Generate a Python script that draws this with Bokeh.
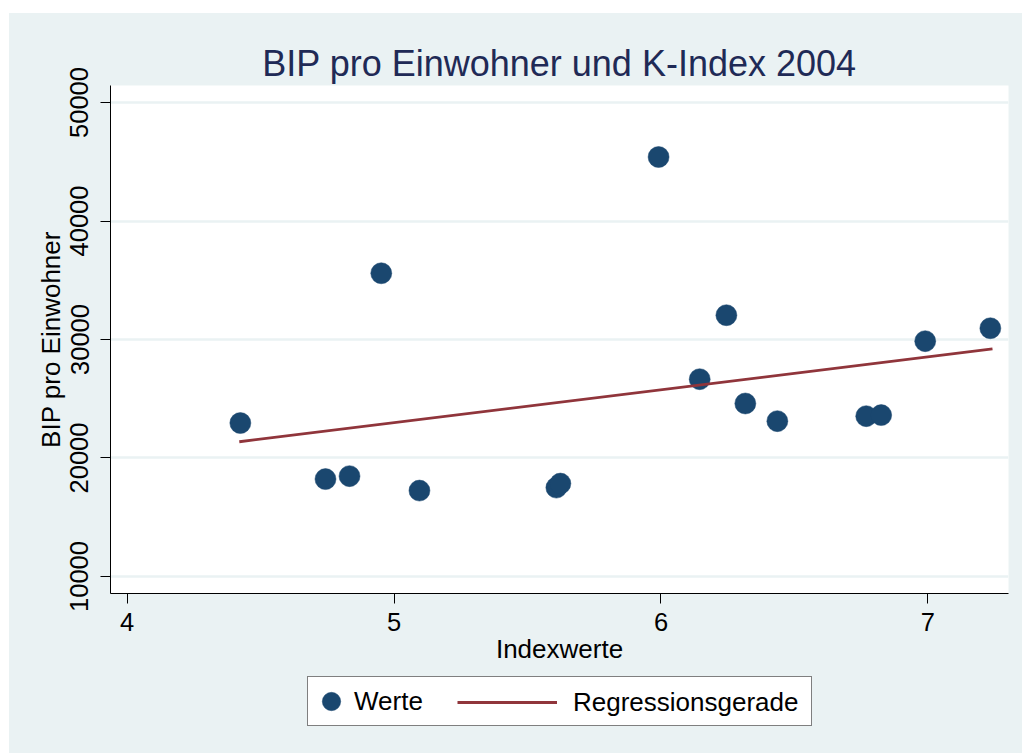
from bokeh.plotting import figure
from bokeh.models import Range1d, FixedTicker, Legend, LegendItem, Spacer
from bokeh.layouts import column, row
from bokeh.embed import file_html
from bokeh.resources import INLINE

# Data
index_values = [4.424, 4.743, 4.833, 4.952, 5.095, 5.608, 5.623, 5.991,
                6.145, 6.245, 6.316, 6.436, 6.769, 6.825, 6.990, 7.234]
bip_values = [22950, 18220, 18470, 35590, 17250, 17500, 17840, 45400,
              26650, 32050, 24600, 23110, 23530, 23620, 29860, 30950]
reg_x = [4.42, 7.242]
reg_y = [21370, 29210]
x_ticks = [4, 5, 6, 7]
y_ticks = [10000, 20000, 30000, 40000, 50000]
series_labels = ["Werte", "Regressionsgerade"]

BG = "#EAF2F3"
NAVY = "#1A476F"
MAROON = "#90353B"
FONT = "Liberation Sans"

p = figure(
    output_backend="svg", toolbar_location=None,
    frame_width=898, frame_height=508,
    min_border_left=101, min_border_right=14,
    min_border_top=72, min_border_bottom=77,
    x_range=Range1d(3.9375, 7.302), y_range=Range1d(8565, 51435),
    background_fill_color="white", border_fill_color=BG,
    outline_line_color=None,
    title="BIP pro Einwohner und K-Index 2004",
)

p.title.text_font = FONT
p.title.text_font_size = "36px"
p.title.text_font_style = "normal"
p.title.text_color = "#1F2A56"
p.title.align = "center"
p.title.standoff = 4

# grid
p.xgrid.visible = False
p.ygrid.grid_line_color = BG
p.ygrid.grid_line_width = 2.5
p.ygrid.ticker = FixedTicker(ticks=y_ticks)

# axes
for ax in (p.xaxis[0], p.yaxis[0]):
    ax.axis_line_color = "black"
    ax.axis_line_width = 1
    ax.major_tick_line_color = "black"
    ax.major_tick_in = 0
    ax.major_tick_out = 10
    ax.minor_tick_line_color = None
    ax.major_label_text_font = FONT
    ax.major_label_text_font_size = "25.5px"
    ax.major_label_text_color = "black"
    ax.axis_label_text_font = FONT
    ax.axis_label_text_font_size = "26px"
    ax.axis_label_text_font_style = "normal"
    ax.axis_label_text_color = "black"

p.xaxis.ticker = FixedTicker(ticks=x_ticks)
p.yaxis.ticker = FixedTicker(ticks=y_ticks)
p.xaxis.axis_label = "Indexwerte"
p.yaxis.axis_label = "BIP pro Einwohner"
p.yaxis.major_label_orientation = "vertical"
p.xaxis.major_label_standoff = 9
p.yaxis.major_label_standoff = 12
p.xaxis.axis_label_standoff = 0
p.yaxis.axis_label_standoff = 2

# glyphs
p.scatter(index_values, bip_values, size=21, marker="circle",
          fill_color=NAVY, line_color=NAVY, line_width=0.5)
p.line(reg_x, reg_y, line_color=MAROON, line_width=2.8)

# legend strip: a second figure below the plot with the same background.
# Its renderers use the same data but its ranges keep them out of view,
# so only their legend swatches show.
lf = figure(
    output_backend="svg", toolbar_location=None,
    frame_width=898, frame_height=83,
    min_border_left=101, min_border_right=14,
    min_border_top=0, min_border_bottom=0,
    x_range=Range1d(0, 1), y_range=Range1d(0, 1),
    x_axis_location=None, y_axis_location=None,
    background_fill_color=BG, border_fill_color=BG,
    outline_line_color=None,
)
lf.xgrid.visible = False
lf.ygrid.visible = False
key_pts = lf.scatter(index_values, bip_values, size=21, marker="circle",
                     fill_color=NAVY, line_color=NAVY, line_width=0.5)
key_line = lf.line(reg_x, reg_y, line_color=MAROON, line_width=2.8)

leg_a = Legend(
    items=[LegendItem(label=series_labels[0], renderers=[key_pts], index=0)],
    location=(197, 27), orientation="horizontal",
    glyph_width=46, glyph_height=48, padding=0, spacing=0,
    label_standoff=0, label_width=457,
    label_text_font=FONT, label_text_font_size="26px", label_text_color="black",
    border_line_color="black", border_line_width=1,
    background_fill_color="white", background_fill_alpha=1,
    margin=0,
)
leg_b = Legend(
    items=[LegendItem(label=series_labels[1], renderers=[key_line])],
    location=(347, 27), orientation="horizontal",
    glyph_width=100, glyph_height=48, padding=0, spacing=0,
    label_standoff=16,
    label_text_font=FONT, label_text_font_size="26px", label_text_color="black",
    border_line_alpha=0, background_fill_alpha=0,
    margin=0,
)
lf.add_layout(leg_a)
lf.add_layout(leg_b)

chart = column(p, lf, spacing=0, styles={"background-color": BG})
layout = row(Spacer(width=9, height=10),
             column(Spacer(height=13, width=1013), chart, spacing=0),
             spacing=0)

open("out.html", "w").write(file_html(layout, INLINE))
